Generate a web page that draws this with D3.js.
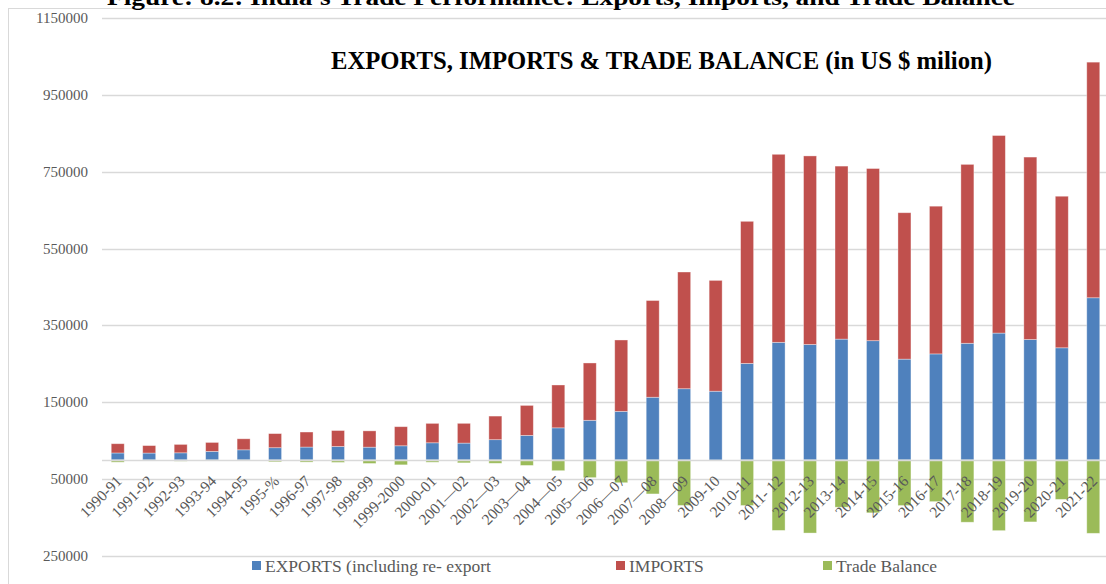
<!DOCTYPE html>
<html>
<head>
<meta charset="utf-8">
<script src="https://cdn.jsdelivr.net/npm/d3@7"></script>
<style>
  body { margin: 0; background: #fff; }
  text { font-family: "Liberation Serif", "Times New Roman", serif; }
</style>
</head>
<body>
<div id="chart"></div>
<script>
// India's trade, US $ million
const years = ["1990-91", "1991-92", "1992-93", "1993-94", "1994-95", "1995-%", "1996-97", "1997-98",
  "1998-99", "1999-2000", "2000-01", "2001\u201402", "2002\u201403", "2003\u201404", "2004\u201405",
  "2005\u201406", "2006\u201407", "2007\u201408", "2008\u201409", "2009-10", "2010-11", "2011- 12",
  "2012-13", "2013-14", "2014-15", "2015-16", "2016-17", "2017-18", "2018-19", "2019-20", "2020-21", "2021-22"];

const exportsVals = [18100, 17900, 18500, 22200, 26300, 31800, 33500, 35000, 33200, 36800, 44600, 43800,
  52700, 63800, 83500, 103100, 126400, 163100, 185300, 178800, 251100, 306000, 300400, 314400, 310300,
  262300, 275900, 303500, 330100, 313400, 291800, 422000];

const importsVals = [24100, 19400, 21900, 23300, 28700, 36700, 39100, 41500, 42400, 49700, 50500, 51400,
  61400, 78100, 111500, 149200, 185700, 251700, 303700, 288400, 369800, 489300, 490700, 450200, 448000,
  381000, 384400, 465600, 514100, 474700, 394400, 613100];

const balanceVals = [-5900, -1500, -3300, -1100, -2300, -4900, -5700, -6500, -9200, -12800, -6000, -7600,
  -8700, -14300, -28000, -46100, -59300, -88500, -118400, 0, -118600, -183400, -190300, -123000, -137700,
  -118700, -108500, -162100, -184000, -161300, -102600, -191000];

const yTicks = [-250000, -50000, 150000, 350000, 550000, 750000, 950000, 1150000];
const yTickLabels = ["250000", "50000", "150000", "350000", "550000", "750000", "950000", "1150000"];

const seriesNames = ["EXPORTS (including re- export", "IMPORTS", "Trade Balance"];
const seriesColors = ["#4f81bd", "#c0504d", "#9bbb59"];

const width = 1106;
const height = 584;
const textColor = "#595959";

const svg = d3.select("#chart").append("svg")
  .attr("width", width)
  .attr("height", height);

// chart area frame
svg.append("rect")
  .attr("x", 8.5).attr("y", 8.5)
  .attr("width", width).attr("height", height)
  .attr("fill", "none")
  .attr("stroke", "#d9d9d9");

// cut-off figure caption at the very top (as in the source scan)
svg.append("text")
  .attr("x", 107).attr("y", 5)
  .attr("font-size", 24).attr("font-weight", "bold")
  .attr("textLength", 908).attr("lengthAdjust", "spacingAndGlyphs")
  .text("Figure: 8.2: India's Trade Performance: Exports, Imports, and Trade Balance");

const x = d3.scaleBand().domain(years).range([102, 1109]);
const y = d3.scaleLinear().domain([-250000, 1150000]).range([556, 18]);
const barW = 13;

// gridlines + tick labels
const grid = svg.append("g");
grid.selectAll("line")
  .data(yTicks)
  .join("line")
  .attr("x1", 102).attr("x2", width)
  .attr("y1", d => Math.round(y(d)) + 0.5)
  .attr("y2", d => Math.round(y(d)) + 0.5)
  .attr("stroke", "#d9d9d9").attr("stroke-width", 1.5);

grid.selectAll("text")
  .data(yTicks)
  .join("text")
  .attr("x", 88)
  .attr("y", d => y(d) + 5)
  .attr("text-anchor", "end")
  .attr("font-size", 15)
  .attr("fill", textColor)
  .text((d, i) => yTickLabels[i]);

// bars
const table = years.map((yr, i) => ({
  year: yr, exports: exportsVals[i], imports: importsVals[i], balance: balanceVals[i]
}));
const stack = d3.stack()
  .keys(["exports", "imports", "balance"])
  .offset(d3.stackOffsetDiverging);

const layers = svg.append("g").selectAll("g")
  .data(stack(table))
  .join("g")
  .attr("fill", (d, i) => seriesColors[i]);

layers.selectAll("rect")
  .data(d => d)
  .join("rect")
  .attr("x", d => x(d.data.year) + (x.bandwidth() - barW) / 2)
  .attr("width", barW)
  .attr("y", d => y(Math.max(d[0], d[1])))
  .attr("height", d => Math.abs(y(d[0]) - y(d[1])))
  .attr("stroke", "#fff")
  .attr("stroke-opacity", 0.45)
  .attr("stroke-width", 0.8);

// category axis line at zero
svg.append("line")
  .attr("x1", 102).attr("x2", width)
  .attr("y1", Math.round(y(0)) + 0.5).attr("y2", Math.round(y(0)) + 0.5)
  .attr("stroke", "#d9d9d9").attr("stroke-width", 1.5);

// rotated category labels
svg.append("g").selectAll("text")
  .data(years)
  .join("text")
  .attr("transform", d => `translate(${x(d) + x.bandwidth() / 2 + 5},${482}) rotate(-45)`)
  .attr("text-anchor", "end")
  .attr("font-size", 15.5)
  .attr("fill", textColor)
  .text(d => d);

// title
svg.append("text")
  .attr("x", 331).attr("y", 69)
  .attr("font-size", 25).attr("font-weight", "bold")
  .attr("textLength", 661).attr("lengthAdjust", "spacingAndGlyphs")
  .text("EXPORTS, IMPORTS & TRADE BALANCE (in US $ milion)");

// legend
const legendX = [252, 616, 823];
const legend = svg.append("g").selectAll("g")
  .data(seriesNames)
  .join("g")
  .attr("transform", (d, i) => `translate(${legendX[i]},566)`);
legend.append("rect")
  .attr("x", 0).attr("y", -5)
  .attr("width", 9).attr("height", 9)
  .attr("fill", (d, i) => seriesColors[i]);
legend.append("text")
  .attr("x", 13).attr("y", 6)
  .attr("font-size", 17.5)
  .attr("fill", textColor)
  .text(d => d);
</script>
</body>
</html>
